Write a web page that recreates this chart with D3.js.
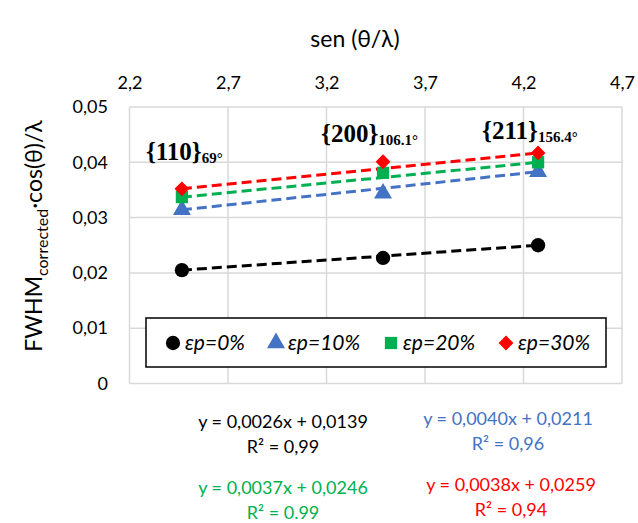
<!DOCTYPE html>
<html>
<head>
<meta charset="utf-8">
<script src="https://cdn.jsdelivr.net/npm/d3@7"></script>
<style>
  body { margin: 0; background: #fff; }
  svg { display: block; font-family: Lato, 'Open Sans', sans-serif; }
</style>
</head>
<body>
<main></main>
<script>
const width = 638;
const height = 523;

// x positions of the three reflections, sen(θ/λ)
const xValues = [2.466, 3.487, 4.274];
const planes = ['{110}', '{200}', '{211}'];
const angles = ['69°', '106.1°', '156.4°'];

const seriesNames = ['εp=0%', 'εp=10%', 'εp=20%', 'εp=30%'];
const ep0 = [0.0205, 0.0227, 0.0250];
const ep10 = [0.0314, 0.0344, 0.0383];
const ep20 = [0.0337, 0.0381, 0.0400];
const ep30 = [0.0352, 0.0401, 0.0417];

const equations = ['y = 0,0026x + 0,0139', 'y = 0,0040x + 0,0211', 'y = 0,0037x + 0,0246', 'y = 0,0038x + 0,0259'];
const r2Labels = ['R² = 0,99', 'R² = 0,96', 'R² = 0.99', 'R² = 0,94'];

const xTicks = [2.2, 2.7, 3.2, 3.7, 4.2, 4.7];
const yTicks = [0, 0.01, 0.02, 0.03, 0.04, 0.05];

const colors = ['#000000', '#4472C4', '#00B050', '#FF0000'];
const symbols = [d3.symbolCircle, d3.symbolTriangle, d3.symbolSquare, d3.symbolSquare];
const symbolSizes = [160, 140, 150, 110];
const symbolRotate = [0, 0, 0, 45];

const series = [ep0, ep10, ep20, ep30].map((vals, i) => ({
  name: seriesNames[i],
  color: colors[i],
  points: vals.map((v, j) => ({ x: xValues[j], y: v }))
}));

const locale = d3.formatLocale({ decimal: ',', thousands: '.', grouping: [3], currency: ['', ''] });
const fmt1 = locale.format('.1f');
const fmt2 = locale.format('.2f');

const xScale = d3.scaleLinear().domain([2.2, 4.7]).range([129.5, 622]);
const yScale = d3.scaleLinear().domain([0, 0.05]).range([383.5, 107]);

const svg = d3.select('main')
  .append('svg')
  .attr('width', width)
  .attr('height', height);

// gridlines
svg.append('g')
  .selectAll('line.v')
  .data(xTicks)
  .enter()
  .append('line')
  .attr('x1', d => xScale(d))
  .attr('x2', d => xScale(d))
  .attr('y1', yScale(0))
  .attr('y2', yScale(0.05))
  .style('stroke', '#d9d9d9')
  .style('stroke-width', 1.5)

svg.append('g')
  .selectAll('line.h')
  .data(yTicks)
  .enter()
  .append('line')
  .attr('x1', xScale(2.2))
  .attr('x2', xScale(4.7))
  .attr('y1', d => yScale(d))
  .attr('y2', d => yScale(d))
  .style('stroke', '#d9d9d9')
  .style('stroke-width', 1.5)

// x axis on top
const xAxis = d3.axisTop(xScale)
  .tickValues(xTicks)
  .tickSize(0)
  .tickPadding(0)
  .tickFormat(d => fmt1(d))

svg.append('g')
  .attr('transform', 'translate(0, 89)')
  .call(xAxis)
  .call(g => g.select('.domain').remove())
  .selectAll('text')
  .style('font-size', '18px')
  .style('font-family', 'Lato, sans-serif')
  .style('fill', '#000')

// y axis
const yAxis = d3.axisLeft(yScale)
  .tickValues(yTicks)
  .tickSize(0)
  .tickPadding(0)
  .tickFormat(d => d === 0 ? '0' : fmt2(d))

svg.append('g')
  .attr('transform', 'translate(108, 0)')
  .call(yAxis)
  .call(g => g.select('.domain').remove())
  .selectAll('text')
  .style('font-size', '18px')
  .style('font-family', 'Lato, sans-serif')
  .style('fill', '#000')

// axis titles
svg.append('text')
  .attr('x', 355)
  .attr('y', 47)
  .attr('text-anchor', 'middle')
  .style('font-size', '23px')
  .text('sen (θ/λ)')

const yTitle = svg.append('text')
  .attr('transform', 'translate(42, 236) rotate(-90)')
  .attr('text-anchor', 'middle')
  .style('font-size', '23px')
yTitle.append('tspan').text('FWHM')
yTitle.append('tspan').attr('dy', 6).style('font-size', '16px').text('corrected')
yTitle.append('tspan').attr('dy', -6).text('·cos(θ)/λ')

// trend lines (dashed, first to last point)
const line = d3.line()
  .x(d => xScale(d.x))
  .y(d => yScale(d.y))

svg.append('g')
  .selectAll('path')
  .data(series)
  .enter()
  .append('path')
  .attr('d', d => line([d.points[0], d.points[d.points.length - 1]]))
  .style('fill', 'none')
  .style('stroke', d => d.color)
  .style('stroke-width', 3)
  .style('stroke-dasharray', '10,5')

// markers
series.forEach((s, i) => {
  svg.append('g')
    .selectAll('path')
    .data(s.points)
    .enter()
    .append('path')
    .attr('transform', d => `translate(${xScale(d.x)}, ${yScale(d.y)}) rotate(${symbolRotate[i]})`)
    .attr('d', d3.symbol().type(symbols[i]).size(symbolSizes[i]))
    .style('fill', s.color)
})

// plane labels
const labelDx = [-36, -62, -56];
const labelY = [160, 142, 139];
const planeLabels = svg.append('g')
  .selectAll('text')
  .data(planes)
  .enter()
  .append('text')
  .attr('x', (d, i) => xScale(xValues[i]) + labelDx[i])
  .attr('y', (d, i) => labelY[i])
  .style('font-family', "'Liberation Serif', 'Times New Roman', serif")
  .style('font-weight', 'bold')
planeLabels.append('tspan').style('font-size', '25px').text(d => d)
planeLabels.append('tspan').attr('dy', 3).style('font-size', '15px').text((d, i) => angles[i])

// legend
const legend = svg.append('g')
legend.append('rect')
  .attr('x', 146)
  .attr('y', 318)
  .attr('width', 460)
  .attr('height', 49)
  .style('fill', '#fff')
  .style('stroke', '#000')
  .style('stroke-width', 1.5)

const legendX = [173, 276, 391, 506];
const legendItems = legend.selectAll('g')
  .data(series)
  .enter()
  .append('g')
  .attr('transform', (d, i) => `translate(${legendX[i]}, 343)`)

legendItems.append('path')
  .attr('d', (d, i) => d3.symbol().type(symbols[i]).size(symbolSizes[i])())
  .attr('transform', (d, i) => `rotate(${symbolRotate[i]})`)
  .style('fill', d => d.color)

legendItems.append('text')
  .attr('x', 12)
  .attr('dy', '0.35em')
  .style('font-size', '21px')
  .style('font-style', 'italic')
  .text(d => d.name)

// equations
const eqX = [283, 508, 283, 511];
const eqY = [428, 425, 494, 491];
const eqGroup = svg.append('g')
  .selectAll('g')
  .data(series)
  .enter()
  .append('g')
  .attr('transform', (d, i) => `translate(${eqX[i]}, ${eqY[i]})`)
  .style('fill', d => d.color)
  .attr('text-anchor', 'middle')
  .style('font-size', '18px')

eqGroup.append('text').text((d, i) => equations[i])
eqGroup.append('text').attr('y', 25).text((d, i) => r2Labels[i])
</script>
</body>
</html>
